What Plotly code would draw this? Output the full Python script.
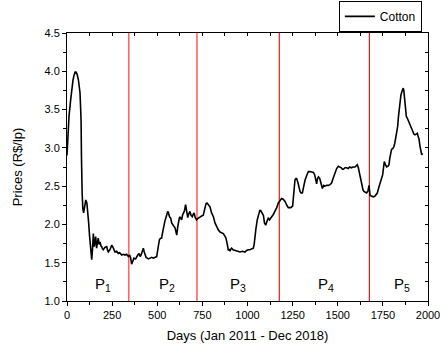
import plotly.graph_objects as go

days = [0, 5, 11, 20, 26, 33, 39, 45, 50, 56, 63, 68, 72, 75, 78, 80, 81, 84, 88, 92, 97, 104, 110, 115, 120, 125, 130, 137, 142, 146, 151, 155, 159, 164, 168, 173, 178, 183, 188, 192, 197, 201, 210, 220, 225, 229, 238, 248, 255, 260, 266, 275, 284, 292, 303, 312, 321, 330, 340, 347, 353, 358, 364, 371, 380, 386, 392, 399, 405, 410, 417, 423, 428, 432, 438, 445, 451, 460, 470, 478, 490, 497, 505, 512, 518, 524, 530, 534, 542, 552, 558, 561, 568, 575, 580, 585, 591, 598, 603, 608, 613, 617, 622, 626, 631, 635, 640, 644, 651, 657, 662, 669, 675, 681, 687, 694, 699, 704, 710, 718, 726, 737, 746, 755, 762, 770, 776, 785, 792, 801, 811, 820, 829, 838, 848, 857, 866, 874, 881, 888, 894, 899, 903, 908, 912, 920, 931, 945, 958, 972, 986, 995, 1004, 1014, 1024, 1032, 1037, 1041, 1047, 1054, 1062, 1068, 1073, 1080, 1088, 1094, 1101, 1108, 1115, 1122, 1128, 1134, 1143, 1152, 1162, 1171, 1180, 1189, 1198, 1208, 1218, 1226, 1232, 1240, 1250, 1256, 1263, 1268, 1272, 1280, 1286, 1291, 1297, 1304, 1310, 1315, 1319, 1328, 1337, 1346, 1356, 1365, 1372, 1377, 1383, 1388, 1393, 1400, 1406, 1410, 1415, 1422, 1429, 1438, 1448, 1457, 1466, 1474, 1481, 1488, 1494, 1503, 1512, 1520, 1526, 1531, 1540, 1549, 1558, 1566, 1575, 1585, 1596, 1602, 1608, 1614, 1620, 1626, 1633, 1640, 1645, 1652, 1660, 1668, 1673, 1676, 1679, 1685, 1691, 1698, 1706, 1712, 1719, 1727, 1734, 1742, 1749, 1754, 1758, 1764, 1771, 1778, 1784, 1788, 1793, 1798, 1804, 1810, 1816, 1823, 1828, 1832, 1836, 1841, 1846, 1850, 1856, 1863, 1866, 1869, 1873, 1876, 1880, 1885, 1892, 1900, 1908, 1915, 1922, 1928, 1935, 1941, 1945, 1950, 1955, 1959, 1965, 1970]

prices = [2.90, 3.20, 3.41, 3.62, 3.76, 3.88, 3.95, 3.99, 3.99, 3.96, 3.89, 3.80, 3.72, 3.55, 3.35, 2.90, 2.60, 2.40, 2.20, 2.15, 2.22, 2.32, 2.28, 2.18, 2.02, 1.85, 1.70, 1.54, 1.70, 1.88, 1.71, 1.80, 1.84, 1.69, 1.78, 1.82, 1.74, 1.77, 1.72, 1.71, 1.68, 1.67, 1.70, 1.71, 1.66, 1.64, 1.67, 1.73, 1.70, 1.66, 1.64, 1.65, 1.62, 1.63, 1.60, 1.61, 1.60, 1.61, 1.58, 1.60, 1.56, 1.48, 1.52, 1.56, 1.55, 1.58, 1.60, 1.62, 1.58, 1.60, 1.64, 1.69, 1.64, 1.60, 1.57, 1.56, 1.55, 1.56, 1.57, 1.56, 1.58, 1.58, 1.70, 1.80, 1.82, 1.82, 1.90, 1.95, 2.04, 2.12, 2.17, 2.16, 2.10, 2.08, 2.02, 1.99, 1.98, 1.96, 1.92, 1.86, 1.96, 2.04, 2.08, 2.10, 2.08, 2.06, 2.12, 2.15, 2.18, 2.26, 2.18, 2.09, 2.14, 2.17, 2.12, 2.10, 2.13, 2.15, 2.09, 2.06, 2.08, 2.10, 2.11, 2.12, 2.18, 2.27, 2.28, 2.25, 2.23, 2.15, 2.10, 2.02, 1.97, 1.93, 1.90, 1.89, 1.88, 1.85, 1.82, 1.74, 1.66, 1.67, 1.65, 1.68, 1.69, 1.67, 1.66, 1.65, 1.64, 1.65, 1.64, 1.66, 1.67, 1.67, 1.68, 1.69, 1.74, 1.84, 1.95, 2.06, 2.14, 2.18, 2.18, 2.15, 2.12, 2.02, 1.99, 2.04, 2.08, 2.06, 2.09, 2.10, 2.13, 2.17, 2.22, 2.28, 2.31, 2.34, 2.33, 2.30, 2.25, 2.22, 2.22, 2.22, 2.24, 2.40, 2.58, 2.60, 2.60, 2.54, 2.47, 2.43, 2.41, 2.41, 2.48, 2.55, 2.58, 2.64, 2.69, 2.69, 2.68, 2.68, 2.65, 2.60, 2.53, 2.60, 2.62, 2.60, 2.54, 2.49, 2.47, 2.51, 2.50, 2.51, 2.51, 2.52, 2.54, 2.60, 2.65, 2.71, 2.73, 2.76, 2.75, 2.74, 2.72, 2.72, 2.74, 2.74, 2.73, 2.75, 2.74, 2.75, 2.75, 2.76, 2.78, 2.74, 2.67, 2.57, 2.49, 2.45, 2.43, 2.42, 2.41, 2.44, 2.51, 2.45, 2.38, 2.37, 2.36, 2.36, 2.37, 2.39, 2.41, 2.48, 2.54, 2.60, 2.65, 2.75, 2.82, 2.78, 2.75, 2.76, 2.78, 2.86, 2.95, 2.98, 2.99, 3.01, 3.06, 3.15, 3.22, 3.28, 3.40, 3.54, 3.63, 3.69, 3.74, 3.78, 3.75, 3.67, 3.55, 3.43, 3.41, 3.39, 3.35, 3.30, 3.25, 3.21, 3.18, 3.17, 3.18, 3.19, 3.15, 3.12, 3.03, 2.97, 2.91, 2.93]

breaks = [342, 720, 1176, 1675]
break_colors = ["#FF6464", "#FF6464", "#F00000", "#E00000"]
break_widths = [1.6, 1.6, 1.1, 1.1]
period_labels = ["P<sub>1</sub>", "P<sub>2</sub>", "P<sub>3</sub>", "P<sub>4</sub>", "P<sub>5</sub>"]
period_x = [200, 554, 948, 1435, 1854]
period_y = 1.22

FONT = "Liberation Sans, Arial, sans-serif"

fig = go.Figure()
fig.add_trace(go.Scatter(x=days, y=prices, mode="lines", name="Cotton",
                         line=dict(color="black", width=1.6)))

for b, c, w in zip(breaks, break_colors, break_widths):
    fig.add_shape(type="line", x0=b, x1=b, y0=1.0, y1=4.5, xref="x", yref="y",
                  line=dict(color=c, width=w), layer="below")

for t, xp in zip(period_labels, period_x):
    fig.add_annotation(x=xp, y=period_y, text=t, showarrow=False,
                       font=dict(family=FONT, size=15, color="black"))

axis_common = dict(showgrid=False, zeroline=False, linecolor="black", linewidth=1,
                   ticks="outside", ticklen=4, tickcolor="black", tickwidth=1,
                   ticklabeloverflow="allow",
                   tickfont=dict(family=FONT, size=11, color="black"))

fig.update_layout(
    width=440, height=347,
    margin=dict(l=67, r=12, t=33, b=46, autoexpand=False),
    paper_bgcolor="white", plot_bgcolor="white",
    font=dict(family=FONT, color="black"),
    showlegend=True,
    legend=dict(x=0.983, y=1.062, xanchor="right", yanchor="middle",
                bordercolor="black", borderwidth=1, bgcolor="white",
                font=dict(family=FONT, size=12, color="black"),
                tracegroupgap=0, itemwidth=30),
    xaxis=dict(range=[0, 2000], dtick=250, tick0=0,
               minor=dict(dtick=125, ticklen=3, ticks="outside", tickcolor="black"),
               title=dict(text="Days (Jan 2011 - Dec 2018)", font=dict(family=FONT, size=13), standoff=10),
               **axis_common),
    yaxis=dict(range=[1.0, 4.5], dtick=0.5, tick0=1.0, tickformat=".1f",
               minor=dict(dtick=0.25, ticklen=3, ticks="outside", tickcolor="black"),
               title=dict(text="Prices (R$/lp)", font=dict(family=FONT, size=13), standoff=18),
               **axis_common),
    xaxis2=dict(range=[0, 2000], overlaying="x", side="top", showgrid=False, zeroline=False,
                linecolor="black", linewidth=1, ticks="inside", ticklen=3, dtick=125, tick0=0,
                showticklabels=False, tickcolor="black"),
    yaxis2=dict(range=[1.0, 4.5], overlaying="y", side="right", showgrid=False, zeroline=False,
                linecolor="black", linewidth=1, ticks="inside", ticklen=3, dtick=0.25, tick0=1.0,
                showticklabels=False, tickcolor="black"),
)
fig.add_trace(go.Scatter(x=[None], y=[None], xaxis="x2", yaxis="y2", showlegend=False,
                         hoverinfo="skip"))

fig.write_html("out.html")
